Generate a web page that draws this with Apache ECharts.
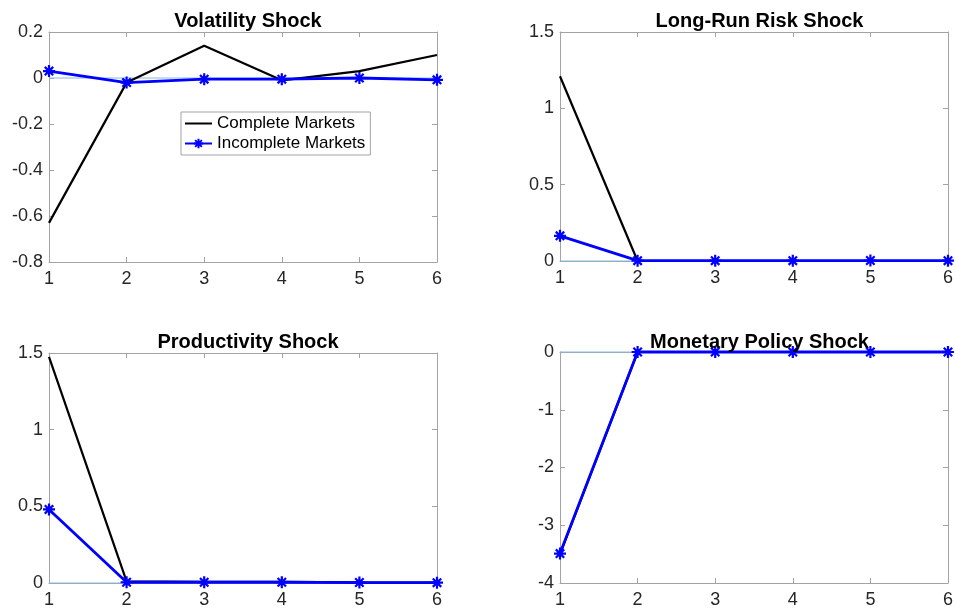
<!DOCTYPE html>
<html>
<head>
<meta charset="utf-8">
<script src="https://cdn.jsdelivr.net/npm/echarts@6/dist/echarts.min.js"></script>
<style>
html,body{margin:0;padding:0;background:#fff;}
#chart{width:956px;height:616px;}
</style>
</head>
<body>
<div id="chart"></div>
<script>
// impulse responses, periods 1..6
var periods = [1, 2, 3, 4, 5, 6];
var zeroLine = [0, 0, 0, 0, 0, 0];
var volComplete = [-0.63, -0.02, 0.14, -0.01, 0.03, 0.10];
var volIncomplete = [0.03, -0.02, -0.005, -0.005, 0.0, -0.008];
var lrrComplete = [1.21, 0.0, 0.0, 0.0, 0.0, 0.0];
var lrrIncomplete = [0.165, 0.002, 0.002, 0.002, 0.003, 0.002];
var prodComplete = [1.475, 0.01, 0.008, 0.008, 0.005, 0.003];
var prodIncomplete = [0.48, 0.005, 0.005, 0.005, 0.003, 0.002];
var monComplete = [-3.5, 0, 0, 0, 0, 0];
var monIncomplete = [-3.49, 0, 0, 0, 0, 0];

var titles = ['Volatility Shock', 'Long-Run Risk Shock', 'Productivity Shock', 'Monetary Policy Shock'];
var yRanges = [[-0.8, 0.2, 0.2], [0, 1.5, 0.5], [0, 1.5, 0.5], [-4, 0, 1]];
var completeList = [volComplete, lrrComplete, prodComplete, monComplete];
var incompleteList = [volIncomplete, lrrIncomplete, prodIncomplete, monIncomplete];

var font = 'Liberation Sans, Helvetica, Arial, sans-serif';
var boxColor = '#a3a3a3';
var asterisk = 'path://M0,5L10,5M5,0L5,10M1.5,1.5L8.5,8.5M8.5,1.5L1.5,8.5';

var grids = [
  {left: 49, top: 32, width: 388, height: 230},
  {left: 560, top: 32, width: 389, height: 229},
  {left: 49, top: 353, width: 388, height: 230},
  {left: 560, top: 352, width: 389, height: 231}
];
var titleTops = [6, 6, 327, 327];

function pairs(ys) {
  return periods.map(function (p, i) { return [p, ys[i]]; });
}

var xAxes = [], yAxes = [], series = [], titleOpts = [];
grids.forEach(function (g, i) {
  titleOpts.push({
    text: titles[i],
    left: g.left + g.width / 2,
    top: titleTops[i],
    textAlign: 'center',
    textStyle: {fontFamily: font, fontSize: 20, fontWeight: 'bold', color: '#000'}
  });
  [0, 1].forEach(function (k) {
    xAxes.push({
      type: 'value', gridIndex: i, min: 1, max: 6, interval: 1,
      position: k ? 'top' : 'bottom',
      axisLine: {show: true, onZero: false, lineStyle: {color: boxColor, width: 1}},
      axisTick: {show: true, inside: true, length: 5, lineStyle: {color: boxColor}},
      axisLabel: {show: !k, margin: 8, fontFamily: font, fontSize: 18, color: '#262626'},
      splitLine: {show: false}
    });
    yAxes.push({
      type: 'value', gridIndex: i, min: yRanges[i][0], max: yRanges[i][1], interval: yRanges[i][2],
      position: k ? 'right' : 'left',
      axisLine: {show: true, onZero: false, lineStyle: {color: boxColor, width: 1}},
      axisTick: {show: true, inside: true, length: 5, lineStyle: {color: boxColor}},
      axisLabel: {show: !k, margin: 6, fontFamily: font, fontSize: 18, color: '#262626'},
      splitLine: {show: false}
    });
  });
  series.push({
    type: 'line', xAxisIndex: 2 * i, yAxisIndex: 2 * i, data: pairs(zeroLine),
    showSymbol: false, clip: false, silent: true, z: 2,
    lineStyle: {color: '#86b9de', width: 1}
  });
  series.push({
    name: 'Complete Markets', type: 'line', xAxisIndex: 2 * i, yAxisIndex: 2 * i,
    data: pairs(completeList[i]), showSymbol: false, symbol: 'none', clip: false, z: 3,
    lineStyle: {color: '#000', width: 2.2}, itemStyle: {color: '#000'}
  });
  series.push({
    name: 'Incomplete Markets', type: 'line', xAxisIndex: 2 * i, yAxisIndex: 2 * i,
    data: pairs(incompleteList[i]), symbol: asterisk, symbolSize: 12, clip: false, z: 4,
    lineStyle: {color: '#0000ff', width: 2.8},
    itemStyle: {color: '#0000ff', borderColor: '#0000ff', borderWidth: 2.2}
  });
});

var myChart = echarts.init(document.getElementById('chart'));
var option = {
  animation: false,
  backgroundColor: '#fff',
  title: titleOpts,
  legend: {
    data: [
      {name: 'Complete Markets', itemStyle: {opacity: 0}},
      {name: 'Incomplete Markets'}
    ],
    orient: 'vertical',
    left: 181, top: 112,
    itemWidth: 27, itemHeight: 12, itemGap: 3,
    padding: [3, 5, 3, 3],
    borderColor: boxColor, borderWidth: 1, backgroundColor: '#fff',
    textStyle: {fontFamily: font, fontSize: 17, color: '#000'}
  },
  grid: grids,
  xAxis: xAxes,
  yAxis: yAxes,
  series: series
};
myChart.setOption(option);
</script>
</body>
</html>
